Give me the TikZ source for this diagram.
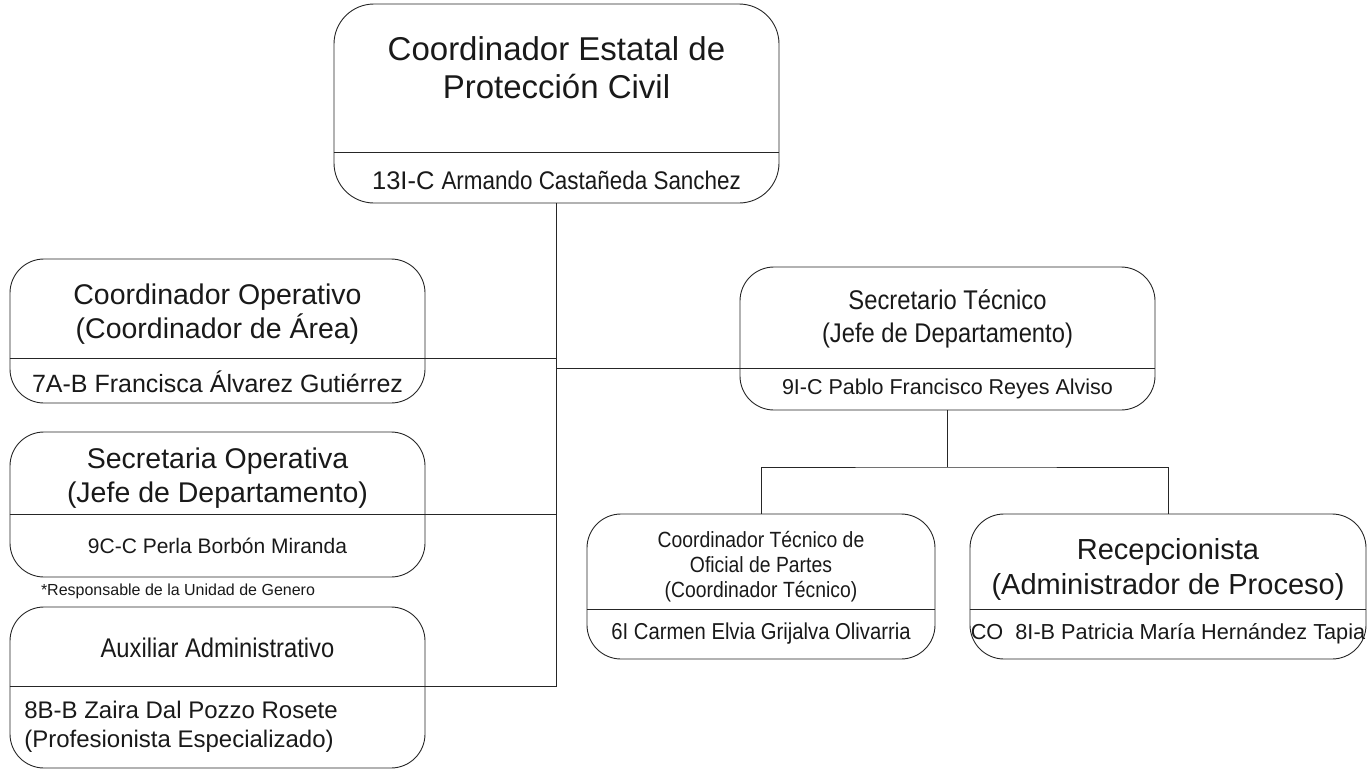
\documentclass[tikz,border=0pt]{standalone}
\usepackage{fontspec}
\setmainfont{Liberation Sans}
\newfontfamily\narrowfont[FakeStretch=0.88]{Liberation Sans}
\usepackage{tikz}
\usetikzlibrary{positioning}

\tikzset{
	puesto/.style={draw=black!85, line width=0.9pt, rounded corners=34pt, rectangle, inner sep=0pt},
	linea/.style={draw=black!85, line width=0.9pt},
	texto/.style={inner sep=0pt, align=center, text=black!90},
}
\newcommand{\tam}[2]{\fontsize{#1}{#2}\selectfont}

\begin{document}
\begin{tikzpicture}[x=1pt,y=-1pt]
		\useasboundingbox (0,0) rectangle (1368,769);
		% cajas
		\node[puesto, rounded corners=40pt, minimum width=445pt, minimum height=199pt] (estatal) at (556.5,103.5) {};
		\node[puesto, minimum width=415pt, minimum height=144pt] (operativo) at (217.5,331) {};
		\node[puesto, minimum width=415pt, minimum height=145pt] (secop) at (217.5,504.5) {};
		\node[puesto, minimum width=415pt, minimum height=161pt] (auxiliar) at (217.5,687.5) {};
		\node[puesto, minimum width=415pt, minimum height=143pt] (sectec) at (947.5,338.5) {};
		\node[puesto, minimum width=348pt, minimum height=145pt] (coordtec) at (761,586.5) {};
		\node[puesto, minimum width=396pt, minimum height=145pt] (recep) at (1168,586.5) {};
		%
		% textos
		\node[texto, font=\tam{33}{38}] (estatal-t) at (556.5,68) {Coordinador Estatal de\\Protección Civil};
		\node[texto, font=\tam{25.5}{30}] (estatal-n) at (556.5,180) {13I-C {\narrowfont Armando Castañeda Sanchez}};
		\node[texto, font=\tam{28.5}{34}] (operativo-t) at (217.5,314) {Coordinador Operativo\\(Coordinador de Área)};
		\node[texto, font=\tam{25}{30}] (operativo-n) at (217.5,382) {7A-B Francisca Álvarez Gutiérrez};
		\node[texto, font=\tam{28.5}{34}] (secop-t) at (217.5,478) {Secretaria Operativa\\(Jefe de Departamento)};
		\node[texto, font=\tam{21}{25}] (secop-n) at (217.5,546) {9C-C Perla Borbón Miranda};
		\node[texto, font=\tam{16}{19}] (genero) at (178,591) {*Responsable de la Unidad de Genero};
		\node[texto, font=\narrowfont\tam{27}{32}] (auxiliar-t) at (217.5,648) {Auxiliar Administrativo};
		\node[texto, align=left, font=\tam{24}{29}] (auxiliar-n) at (181,727) {8B-B Zaira Dal Pozzo Rosete\\(Profesionista Especializado)};
		\node[texto, font=\narrowfont\tam{27}{33}] (sectec-t) at (947.5,319) {Secretario Técnico\\(Jefe de Departamento)};
		\node[texto, font=\tam{21.5}{26}] (sectec-n) at (947.5,389) {9I-C Pablo Francisco Reyes Alviso};
		\node[texto, font=\narrowfont\tam{22}{25}] (coordtec-t) at (761,567) {Coordinador Técnico de\\Oficial de Partes\\(Coordinador Técnico)};
		\node[texto, font=\narrowfont\tam{23}{28}] (coordtec-n) at (761,634) {6I Carmen Elvia Grijalva Olivarria};
		\node[texto, font=\tam{29}{35}] (recep-t) at (1168,569) {Recepcionista\\(Administrador de Proceso)};
		\node[texto, font=\tam{21.7}{26}] (recep-n) at (1168,634) {CO\ \ 8I-B Patricia María Hernández Tapia};
		%
		% divisiones y lineas de mando
		\draw[linea] (estatal.west |- 0,152) -- (estatal.east |- 0,152);
		\draw[linea] (estatal.south) -- (estatal.south |- 0,686);
		\draw[linea] (operativo.west |- 0,358) -- (estatal.south |- 0,358);
		\draw[linea] (secop.west |- 0,514) -- (estatal.south |- 0,514);
		\draw[linea] (auxiliar.west |- 0,686) -- (estatal.south |- 0,686);
		\draw[linea] (estatal.south |- 0,368) -- (sectec.east |- 0,368);
		\draw[linea] (coordtec.west |- 0,609) -- (coordtec.east |- 0,609);
		\draw[linea] (recep.west |- 0,609) -- (recep.east |- 0,609);
		\coordinate (reparto) at (sectec.south |- 0,467);
		\draw[linea] (sectec.south) -- (reparto);
		\draw[linea] (coordtec.north) |- (reparto) -| (recep.north);
\end{tikzpicture}
\end{document}
